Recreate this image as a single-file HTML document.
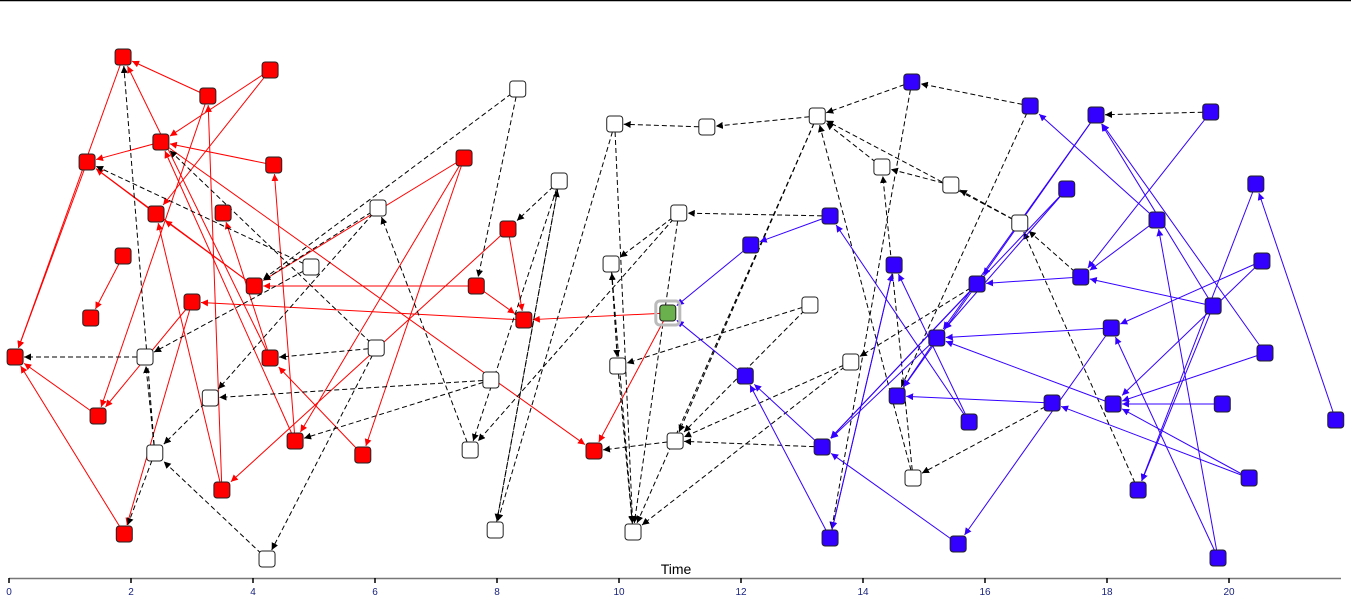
<!DOCTYPE html>
<html><head><meta charset="utf-8"><style>
html,body{margin:0;padding:0;background:#fff;width:1351px;height:608px;overflow:hidden;font-family:"Liberation Sans",sans-serif}
svg{display:block}
</style></head><body>
<svg id="chart" width="1351" height="608" viewBox="0 0 1351 608" xmlns="http://www.w3.org/2000/svg">
<defs>
<marker id="ar-red" viewBox="0 0 10 10" refX="10" refY="5" markerWidth="7" markerHeight="7" orient="auto" markerUnits="userSpaceOnUse"><path d="M0,0L10,5L0,10z" fill="#ff0000"/></marker>
<marker id="ar-blue" viewBox="0 0 10 10" refX="10" refY="5" markerWidth="7" markerHeight="7" orient="auto" markerUnits="userSpaceOnUse"><path d="M0,0L10,5L0,10z" fill="#3300ff"/></marker>
<marker id="ar-black" viewBox="0 0 10 10" refX="10" refY="5" markerWidth="7" markerHeight="7" orient="auto" markerUnits="userSpaceOnUse"><path d="M0,0L10,5L0,10z" fill="#000"/></marker>
</defs>
<line x1="0" y1="0.5" x2="1351" y2="0.5" stroke="#000" stroke-width="1.5"/>
<g id="edges"></g>
<g id="nodes"></g>
<g id="axis"></g>
<text x="676" y="574" font-size="14" text-anchor="middle" fill="#000">Time</text>
</svg>
<script>
const nodeIds = ["R1","R2","R3","R4","R5","R6","R7","R8","R9","R10","R11","R12","R13","R14","R15","R16","R17","R18","R19","R20","R21","R22","R23","R24","G",
"W1","W2","W3","W4","W5","W6","W7","W8","W9","W10","W11","W12","W13","W14","W15","W16","W17","W18","W19","W20","W21","W22","W23","W24","W25","W26",
"B1","B2","B3","B4","B5","B6","B7","B8","B9","B10","B11","B12","B13","B14","B15","B16","B17","B18","B19","B20","B21","B22","B23","B24","B25","B26","B27","B28","B29","B30"];
const nodeTimes = [0.10,1.87,1.28,1.87,1.34,1.46,1.89,2.49,2.41,3.00,3.26,3.51,4.28,4.34,4.02,4.28,3.49,4.69,5.80,7.46,7.66,8.18,8.44,9.59,10.80,
2.23,2.39,3.30,4.23,4.95,6.05,6.02,7.90,7.56,7.97,8.34,9.02,9.93,9.87,9.98,10.23,11.44,10.98,10.92,13.25,13.13,13.80,14.31,14.82,15.44,16.57,
14.80,16.74,17.82,19.70,17.34,18.82,20.44,13.46,12.16,14.51,15.87,17.57,20.54,15.21,18.07,19.74,20.59,12.07,14.56,17.10,18.10,19.89,15.74,13.33,21.75,20.33,18.51,13.46,15.56,19.82];
const nodeLevels = [44.2,104.2,83.2,64.4,52,32.4,8.8,87.2,72.8,55.2,96.4,73,101.6,82.6,58.4,44,17.6,27.4,24.6,84,58.4,69.8,51.6,25.4,53,
44.2,25,36,3.8,62.2,74,46,39.6,25.6,9.6,97.8,79.4,90.8,62.8,42.4,9.2,90.2,73,27.4,92.4,54.6,43.2,82.2,20,78.6,71,
99.2,94.4,92.6,93.2,77.8,71.6,78.8,72.4,66.6,62.6,58.8,60.2,63.4,48,50,54.4,45,40.4,36.4,35,34.8,34.8,31.2,26.2,31.6,20,17.6,8,6.8,4];
const edgeSources = ["R11","R16","R2","R8","R14","R13","R13","R3","R9","R15","R15","R4","R10","R6","R7","R10","R11","R18","R17","R16","R18","R19","R20","R20","R22","R20","R21","R23","G","G","R22","R21","R8","R17",
"W1","W2","W2","W2","W3","W4","W5","W11","W6","W6","W7","W7","W8","W12","W12","W13","W13","W17","W18","W18","W18","W19","W20","W20","W20","W21","W22","W22","W23","W25","W26","W26","W24","B1","B8","B11","B20","B12","B27","W14","W11","W9","W15","W7","W8","W10","W21","W24","W12","W16","B24","W5",
"B2","B1","B2","B4","B4","B3","B3","B5","B5","B17","B16","B6","B6","B16","B30","B16","B25","B7","B13","B13","B17","B22","B26","B26","B20","B15","B30","B21","B15","B12","B8","B23","B23","B28","B10","B9","B18","B24","B28","B11","B29","B11","B14","B14"];
const edgeTargets = ["R2","R2","R1","R3","R8","R8","R9","R1","R3","R9","R3","R5","R6","R1","R1","R7","R6","R14","R11","R12","R8","R16","R18","R19","R17","R15","R15","R10","R23","R24","R23","R23","R24","R9",
"R1","W1","R7","R2","W2","W2","W1","R15","R15","W3","R16","W4","W3","W9","W10","W10","W16","W13","W14","W9","W16","R24","W19","W16","W17","W19","W16","W19","W20","W23","W25","W20","W20","W20","W18","W22","W24","W26","W26","W15","R21","W6","W16","R8","R18","W12","W15","W23","R22","W14","W19","R3",
"B1","B28","B19","B3","B12","B11","B14","B14","B24","B3","B3","B12","B2","B27","B6","B12","B7","B27","B15","B21","B21","B21","B21","B20","B19","B29","B15","B14","B14","B11","B9","B8","B10","B10","B28","G","G","B18","B18","B24","B24","B19","B19","B24"];
const edgeTypes = ["r","r","r","r","r","r","r","r","r","r","r","r","r","r","r","r","r","r","r","r","r","r","r","r","r","r","r","r","r","r","r","r","r","r",
"k","k","k","k","k","k","k","k","k","k","k","k","k","k","k","k","k","k","k","k","k","k","k","k","k","k","k","k","k","k","k","k","k","k","k","k","k","k","k","k","k","k","k","k","k","k","k","k","k","k","k","k","k","k","k","k",
"b","b","b","b","b","b","b","b","b","b","b","b","b","b","b","b","b","b","b","b","b","b","b","b","b","b","b","b","b","b","b","b","b","b","b","b","b","b","b","b","b","b","b","b"];
const tickValues = [0,2,4,6,8,10,12,14,16,18,20];

const NS = "http://www.w3.org/2000/svg";
function xScale(t){ return 9 + t*61; }
function yScale(v){ return 578 - v*5; }
const idx = {}; nodeIds.forEach((id,i)=>idx[id]=i);
const colorOf = {r:"#ff0000", b:"#3300ff", k:"#000"};
function nodeFill(id){ return id==="G" ? "#6ab04c" : id[0]==="R" ? "#ff0000" : id[0]==="B" ? "#3300ff" : "#ffffff"; }

const eg = document.getElementById("edges");
for (let i=0;i<edgeSources.length;i++){
  const a = idx[edgeSources[i]], b = idx[edgeTargets[i]];
  if (a===undefined||b===undefined) continue;
  const x1=xScale(nodeTimes[a]), y1=yScale(nodeLevels[a]);
  const x2=xScale(nodeTimes[b]), y2=yScale(nodeLevels[b]);
  const dx=x2-x1, dy=y2-y1, len=Math.hypot(dx,dy);
  const h=9, s=h/Math.max(Math.abs(dx)/len, Math.abs(dy)/len);
  const ex=x2-dx/len*s, ey=y2-dy/len*s;
  const ln=document.createElementNS(NS,"line");
  
  
  ln.setAttribute("x1",x1);ln.setAttribute("y1",y1);ln.setAttribute("x2",ex);ln.setAttribute("y2",ey);
  const t=edgeTypes[i];
  ln.setAttribute("stroke",colorOf[t]);ln.setAttribute("stroke-width","1");
  if(t==="k") ln.setAttribute("stroke-dasharray","5,3");
  ln.setAttribute("marker-end", t==="r"?"url(#ar-red)":t==="b"?"url(#ar-blue)":"url(#ar-black)");
  eg.appendChild(ln);
}
const ng = document.getElementById("nodes");
for (let i=0;i<nodeIds.length;i++){
  const cx=xScale(nodeTimes[i]), cy=yScale(nodeLevels[i]);
  if(nodeIds[i]==="G"){
    const halo=document.createElementNS(NS,"rect");
    
    
    halo.setAttribute("x",cx-12);halo.setAttribute("y",cy-12);halo.setAttribute("width",24);halo.setAttribute("height",24);halo.setAttribute("rx",4);
    halo.setAttribute("fill","none");halo.setAttribute("stroke","#bbb");halo.setAttribute("stroke-width","3");
    ng.appendChild(halo);
  }
  const r=document.createElementNS(NS,"rect");
  
  
  r.setAttribute("x",cx-8);r.setAttribute("y",cy-8);r.setAttribute("width",16);r.setAttribute("height",16);r.setAttribute("rx",3);
  r.setAttribute("fill",nodeFill(nodeIds[i]));r.setAttribute("stroke","#222");r.setAttribute("stroke-width","1");
  ng.appendChild(r);
}
const ag = document.getElementById("axis");
const axl=document.createElementNS(NS,"line");


axl.setAttribute("x1",9);axl.setAttribute("x2",1341);axl.setAttribute("y1",578.5);axl.setAttribute("y2",578.5);
axl.setAttribute("stroke","#777");axl.setAttribute("stroke-width","1.5");
ag.appendChild(axl);
tickValues.forEach(v=>{
  const x=xScale(v);
  const tk=document.createElementNS(NS,"line");
  
  
  tk.setAttribute("x1",x);tk.setAttribute("x2",x);tk.setAttribute("y1",578);tk.setAttribute("y2",583);
  tk.setAttribute("stroke","#000");tk.setAttribute("stroke-width","1.5");
  ag.appendChild(tk);
  const tx=document.createElementNS(NS,"text");
  
  
  tx.setAttribute("x",x);tx.setAttribute("y",595);tx.setAttribute("font-size","10");tx.setAttribute("text-anchor","middle");
  tx.setAttribute("fill","#1a237e");
  tx.textContent=String(v);
  ag.appendChild(tx);
});
</script>
</body></html>
